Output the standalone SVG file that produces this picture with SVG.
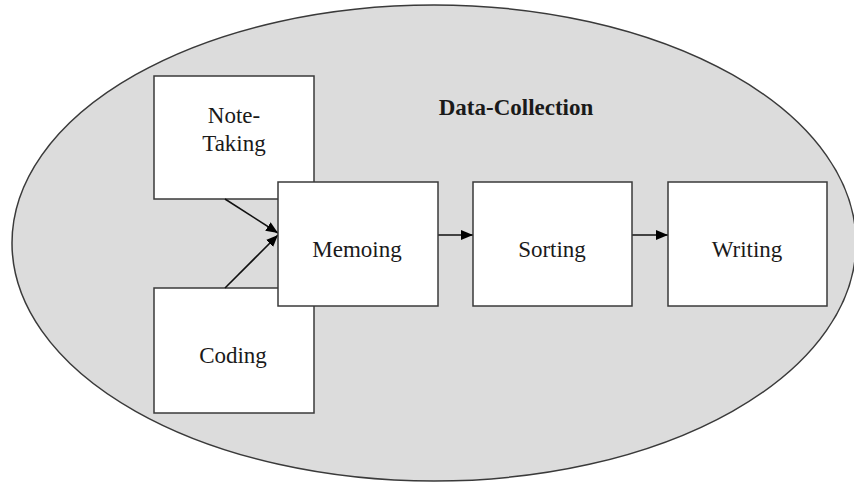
<svg xmlns="http://www.w3.org/2000/svg" width="854" height="484" viewBox="0 0 854 484">
  <style>
    .box { fill: #ffffff; stroke: #3a3a3a; stroke-width: 1.5; }
    .label { font-family: 'Liberation Serif', 'Times New Roman', Times, 'DejaVu Serif', serif; font-size: 23px; fill: #1a1a1a; text-anchor: middle; }
    .title { font-weight: bold; }
    .edge { stroke: #111111; stroke-width: 1.6; fill: none; marker-end: url(#arrow); }
  </style>
  <defs>
    <marker id="arrow" viewBox="0 0 12 10" refX="12" refY="5" markerWidth="12" markerHeight="10" markerUnits="userSpaceOnUse" orient="auto">
      <path d="M0,0 L12,5 L0,10 Z" fill="#000000"/>
    </marker>
  </defs>

  <!-- enclosing data-collection region -->
  <g id="data-collection">
    <ellipse cx="434" cy="243" rx="422" ry="238" fill="#dcdcdc" stroke="#3a3a3a" stroke-width="1.5"/>
    <text class="label title" x="516" y="115" font-family="Liberation Serif, serif">Data-Collection</text>
  </g>

  <g id="note-taking">
    <rect class="box" x="154" y="76" width="160" height="123"/>
    <text class="label" x="234" y="123" font-family="Liberation Serif, serif">Note-</text>
    <text class="label" x="234" y="151" font-family="Liberation Serif, serif">Taking</text>
  </g>

  <g id="coding">
    <rect class="box" x="154" y="288" width="160" height="125"/>
    <text class="label" x="233" y="363" font-family="Liberation Serif, serif">Coding</text>
  </g>

  <g id="connectors">
    <line class="edge" x1="225" y1="199" x2="278" y2="233"/>
    <line class="edge" x1="225" y1="288" x2="278" y2="235"/>
    <line class="edge" x1="438" y1="235" x2="473" y2="235"/>
    <line class="edge" x1="632" y1="235" x2="668" y2="235"/>
  </g>

  <g id="memoing">
    <rect class="box" x="278" y="182" width="160" height="124"/>
    <text class="label" x="357" y="257" font-family="Liberation Serif, serif">Memoing</text>
  </g>

  <g id="sorting">
    <rect class="box" x="473" y="182" width="159" height="124"/>
    <text class="label" x="552" y="257" font-family="Liberation Serif, serif">Sorting</text>
  </g>

  <g id="writing">
    <rect class="box" x="668" y="182" width="159" height="124"/>
    <text class="label" x="747" y="257" font-family="Liberation Serif, serif">Writing</text>
  </g>
</svg>
